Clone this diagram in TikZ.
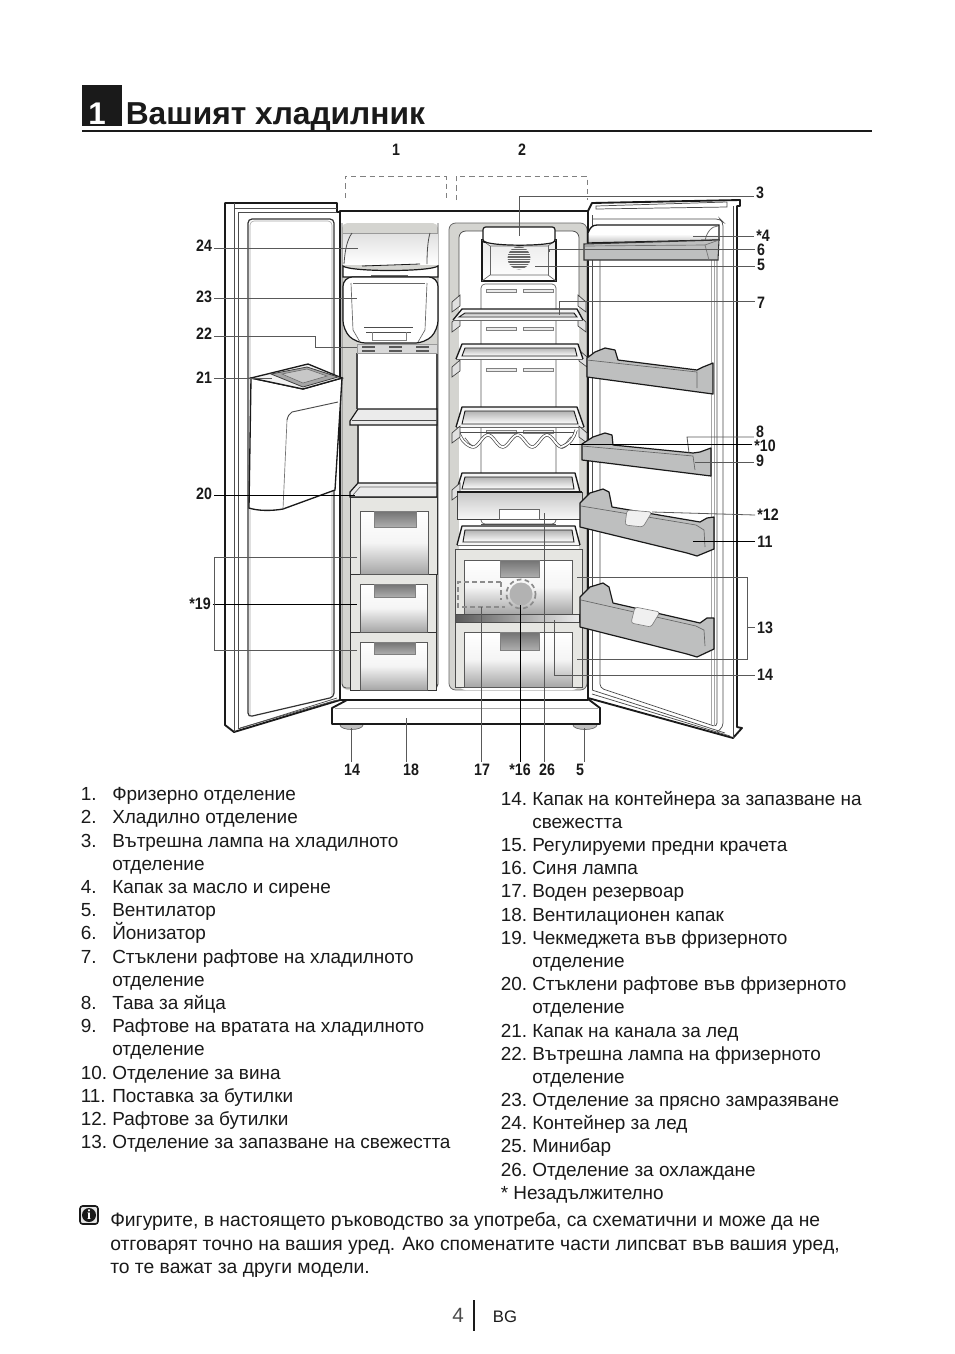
\documentclass[tikz,border=0pt]{standalone}
\usepackage{fontspec}
\setmainfont{Liberation Sans}
\newfontfamily\numf[FakeStretch=0.86]{Liberation Sans}
\newfontfamily\iconf{Liberation Serif}
\usetikzlibrary{calc}
\definecolor{ink}{HTML}{1A1A1A}
\definecolor{frameg}{HTML}{D4D4D0}
\definecolor{doorg}{HTML}{BEBFBF}
\definecolor{sideg}{HTML}{E6E6E2}
\tikzset{
  num/.style={font=\numf\bfseries\fontsize{12.4}{14}\selectfont,text=ink,inner sep=1.5pt},
  item/.style={anchor=base west,font=\fontsize{14.22}{17}\selectfont,text=ink,inner sep=0pt},
  noteline/.style={anchor=base west,font=\fontsize{14.48}{17}\selectfont,text=ink,inner sep=0pt},
  lead/.style={draw=black!65,line width=0.6pt},
  leaddark/.style={draw=black,line width=0.7pt},
  outline/.style={draw=ink,line width=1.4pt,line join=round},
  thin/.style={draw=black!70,line width=0.55pt},
  hair/.style={draw=black!35,line width=0.45pt},
  dashbox/.style={draw=black!50,line width=0.5pt,dash pattern=on 4pt off 3pt},
  bluedash/.style={draw=black!45,line width=1.3pt,dash pattern=on 3.5pt off 2.5pt},
  dshelf/.style={draw=ink,line width=0.9pt,fill=doorg,line join=round},
  slot/.style={draw=black!50,line width=0.4pt,fill=black!8},
  clipb/.style={draw=black!75,line width=0.5pt,fill=black!12},
  front/.style={draw=black!65,line width=0.5pt,top color=white,bottom color=black!35,middle color=black!4},
  hand/.style={draw=black!50,line width=0.3pt,top color=black!55,bottom color=black!32},
}
\newcommand{\glassshelf}[6]{%
  \fill[black!4] (#3,#1) -- (#4,#1) -- (#6,#2) -- (#5,#2) -- cycle;
  \draw[draw=ink,line width=1pt,line join=round] (#5,#2) -- (#3,#1) -- (#4,#1) -- (#6,#2);
  \draw[draw=black!60,line width=.5pt] (#5,#2) -- (#6,#2);
  \draw[draw=ink,line width=.7pt,top color=black!30,bottom color=white] ($(#3,#1)+(3,4)$) -- ($(#4,#1)+(-3,4)$) -- ($(#6,#2)+(-6,-3)$) -- ($(#5,#2)+(6,-3)$) -- cycle;
}
\newcommand{\clipL}[2]{\draw[clipb] (#1,{#2+7}) -- ({#1+8},#2) -- ({#1+8},{#2+11}) -- (#1,{#2+17}) -- cycle;}
\newcommand{\clipR}[2]{\draw[clipb] (#1,#2) -- ({#1+8},{#2+7}) -- ({#1+8},{#2+17}) -- (#1,{#2+11}) -- cycle;}
\begin{document}
\begin{tikzpicture}[x=0.75pt,y=-0.75pt]
\useasboundingbox (0,0) rectangle (954,1354);
\fill[white] (0,0) rectangle (954,1354);

% --- heading
\fill[ink] (82,85) rectangle (122,126);
\node[anchor=base,text=white,font=\bfseries\fontsize{23.5}{26}\selectfont,inner sep=0pt] (hnum) at (97,124) {1};
\node[anchor=base west,text=ink,font=\bfseries\fontsize{23.8}{26}\selectfont,inner sep=0pt] (htitle) at (125.5,124) {Вашият хладилник};
\draw[draw=ink,line width=1.6pt] (82,131) -- (872,131);

% --- dashed brackets
\draw[dashbox] (345,198) -- (345,176) -- (446,176) -- (446,198);
\draw[dashbox] (456,200) -- (456,176) -- (587,176) -- (587,200);

% --- base and feet
\draw[draw=black!60,line width=.5pt,fill=black!25] (351.5,725) ellipse[x radius=11.5,y radius=4.5];
\draw[draw=black!60,line width=.5pt,fill=black!25] (585,725) ellipse[x radius=12,y radius=4.5];
\draw[outline,fill=white] (347,700) -- (332,708) -- (332,724) -- (600,724) -- (600,708) -- (588,699);
\draw[hair] (335,708) -- (598,708);

% --- left door
\draw[outline,fill=white] (340,700) -- (234,732) -- (225,725) -- (225,203) -- (337,203) -- (337,212) -- (340,212) -- cycle;
\draw[thin] (234,732) -- (234,203);
\draw[thin] (238,729) -- (238,212) -- (337,212);
\draw[thin] (234,203) -- (234,208) -- (337,208);
\draw[thin] (238,729) -- (337,698);
\draw[thin] (240,728) -- (337,700);
\draw[draw=black!80,line width=.9pt,rounded corners=3pt] (248,717) -- (248,219) -- (334,219) -- (334,697) -- cycle;
\draw[hair,rounded corners=3pt] (250,715) -- (250,221) -- (332,221) -- (332,695);

% --- cabinet
\fill[white] (340,211) rectangle (588,700);
\fill[frameg,rounded corners=4pt] (342,223) rectangle (438,690);
\fill[white] (357,353) rectangle (437,497);
\draw[draw=black!70,line width=.8pt] (437,353) -- (437,497);
\draw[draw=black!70,line width=.8pt] (357,353) -- (357,409);
\draw[draw=black!70,line width=.8pt] (358,425) -- (358,483);
% fridge interior
\draw[draw=black!60,line width=.6pt,fill=frameg,rounded corners=5pt] (449,690) -- (449,223) -- (587,223) -- (587,690) -- cycle;
\fill[white,rounded corners=5pt] (459,690) -- (459,231) -- (579,231) -- (579,690) -- cycle;
\draw[draw=black!70,line width=.6pt,rounded corners=5pt] (459,300) -- (459,231) -- (579,231) -- (579,300);
\draw[outline] (340,211) -- (588,211) -- (588,700) -- (340,700) -- cycle;
\draw[draw=ink,line width=1.9pt] (340,211) -- (340,700);
\draw[draw=black!70,line width=.7pt,fill=none,rounded corners=3pt] (342,223) -- (342,688) -- (438,688) -- (438,223);

% --- ice container 24
\fill[top color=black!12,bottom color=white] (343,233) rectangle (438,264);
\draw[draw=black!40,line width=.5pt] (343,233) -- (438,233);
\draw[draw=black!70,line width=.6pt] (344,264) .. controls (345,250) and (347,240) .. (352,233);
\draw[draw=black!70,line width=.6pt] (427,264) .. controls (427,250) and (428,240) .. (430,233);
\draw[draw=ink,line width=.9pt,fill=white] (343,266) .. controls (350,272) and (430,272) .. (438,266) -- (438,277) -- (343,277) -- cycle;
\draw[draw=ink,line width=.6pt] (362,266) -- (420,264);
\draw[draw=black!60,line width=.5pt] (371,275) rectangle (407,279);
% --- fast freeze 23
\draw[draw=ink,line width=.9pt,fill=white,rounded corners=7pt] (343,277) -- (438,277) -- (438,330) -- (425,343) -- (356,343) -- (343,330) -- cycle;
\draw[draw=black!60,line width=.5pt] (353,283) -- (425,283);
\draw[draw=black!60,line width=.5pt] (351,283) -- (353,330) -- (360,342);
\draw[draw=black!60,line width=.5pt] (427,283) -- (425,330) -- (418,342);
\draw[draw=black!70,line width=.6pt] (364,327) -- (413,327);
\draw[draw=black!70,line width=.6pt] (366,332) -- (411,332);
\draw[draw=black!50,line width=.5pt] (372,332) -- (372,340) -- (406,340) -- (406,332);
% --- lamp strip 22
\draw[draw=black!40,line width=.4pt,fill=black!15] (357,344) rectangle (437,353);
\foreach \xx in {362,389,416}{\fill[black!65] (\xx,346) rectangle ++(13,2);\fill[black!65] (\xx,350) rectangle ++(13,2);}
% --- freezer shelves
\draw[draw=ink,line width=.9pt,fill=black!8] (350,425) -- (350,421) -- (358,409) -- (437,409) -- (437,425) -- cycle;
\draw[draw=black!70,line width=.5pt] (352,420) -- (437,420);
\draw[draw=ink,line width=.9pt,fill=black!8] (350,497) -- (350,492) -- (358,483) -- (437,483) -- (437,497) -- cycle;
\draw[draw=black!60,line width=.5pt] (353,495) -- (360,487) -- (437,487);
% --- freezer drawers
\draw[draw=black!80,line width=.7pt,fill=sideg] (350,497) rectangle (437,574);
\draw[draw=black!80,line width=.7pt,fill=sideg] (350,574) rectangle (436,632);
\draw[draw=black!80,line width=.7pt,fill=sideg] (350,632) rectangle (436,690);
\draw[front] (360,511) rectangle (428,574);
\draw[hand] (374,511) rectangle (416,527);
\draw[front] (360,584) rectangle (427,632);
\draw[hand] (374,584) rectangle (415,597);
\draw[front] (360,642) rectangle (427,690);
\draw[hand] (374,642) rectangle (415,654);

% --- fridge rear shelf holder
\draw[draw=black!65,line width=.5pt,rounded corners=3pt] (481,524) -- (481,284) -- (556,284) -- (556,524) -- cycle;
\foreach \yy in {289,327,368,430}{\draw[slot] (486,\yy) rectangle (516,{\yy+3});\draw[slot] (523,\yy) rectangle (553,{\yy+3});}
% --- fan housing and lamp cover
\draw[draw=ink,line width=1.1pt,top color=black!8,bottom color=white] (482,240) rectangle (556,281);
\draw[draw=black!60,line width=.5pt] (482,240) -- (490,246) -- (548,246) -- (556,240);
\draw[draw=black!60,line width=.5pt] (482,281) -- (490,275) -- (548,275) -- (556,281);
\draw[draw=black!60,line width=.5pt] (490,246) -- (490,275);
\draw[draw=black!60,line width=.5pt] (548,246) -- (548,275);
\begin{scope}
\clip (519,258) circle[radius=11.5];
\foreach \yy in {247,249.5,...,270}{\draw[draw=black!60,line width=.8pt] (505,\yy) -- (533,\yy);}
\end{scope}
\draw[draw=ink,line width=.9pt,fill=white,rounded corners=2pt] (485,242) .. controls (500,246) and (540,246) .. (555,242) -- (555,227) -- (483,227) -- (483,242) -- cycle;
% --- glass shelves
\clipL{452}{295}\clipL{452}{315}\clipR{578}{295}\clipR{578}{315}
\clipL{452}{360}\clipR{579}{350}
\glassshelf{309}{320}{462}{577}{453}{583}
\glassshelf{344}{359}{462}{578}{456}{583}
\glassshelf{407}{427}{462}{577}{456}{584}
% wine rack
\draw[draw=black!70,line width=.5pt] (460,432) -- (577,432);
\draw[draw=black!75,line width=.5pt,double=white,double distance=1.4pt] plot[domain=464:572,samples=70,smooth] (\x,{441-6*cos((\x-488)*12.2)});
\draw[draw=black!75,line width=.5pt,double=white,double distance=1.4pt] (458,430) .. controls (460,438) and (464,444) .. (472,447);
\draw[draw=black!75,line width=.5pt,double=white,double distance=1.4pt] (576,430) .. controls (574,438) and (570,444) .. (561,447);
\clipL{452}{426}\clipR{579}{426}
\glassshelf{473}{492}{462}{575}{456}{580}
\clipL{452}{483}
% --- chiller drawer 26
\draw[draw=black!75,line width=.6pt,top color=black!22,bottom color=black!3] (457,492) rectangle (582,519);
\draw[draw=ink,line width=.9pt] (457,492) -- (582,492);
\draw[draw=black!60,line width=.5pt,fill=white] (499,509) rectangle (539,519);
\draw[draw=black!70,line width=.6pt] (481,524) -- (556,524);
% --- shelf over crisper
\glassshelf{526}{545}{462}{575}{457}{580}
% --- crisper drawers
\draw[draw=black!70,line width=.7pt,fill=sideg] (455,549) rectangle (582,614);
\draw[front] (464,560) rectangle (572,614);
\draw[hand] (500,560) rectangle (539,577);
\draw[draw=black!70,line width=.7pt,fill=sideg] (455,622) rectangle (582,687);
\draw[front] (464,632) rectangle (572,687);
\draw[hand] (500,632) rectangle (539,650);
\draw[draw=black!70,line width=.6pt,left color=black!65,right color=black!8] (455,614) rectangle (579,622);
% --- water tank and blue lamp, dashed
\fill[black!30] (521,594) circle[radius=11.5];
\draw[bluedash] (521,594) circle[radius=14.5];
\draw[bluedash] (501,582) -- (458,582) -- (458,607) -- (505,607);
\draw[bluedash] (501,582) -- (501,600);

% --- right door
\fill[white] (592,203) -- (740,200) -- (740,206) -- (737,206) -- (737,727) -- (742,728) -- (733,738) -- (590,698) -- (590,211) -- cycle;
\draw[outline] (588,211) -- (592,203) -- (740,200) -- (740,206) -- (737,206) -- (737,727) -- (742,728) -- (733,738) -- (588,698);
\draw[thin] (596,206) -- (727,202) -- (727,207) -- (596,209) -- cycle;
\draw[thin] (733,206) -- (733,738);
\draw[thin] (592,690) -- (592,215);
\draw[thin] (592,690) -- (725,733);
\draw[thin] (592,694) -- (730,736);
\draw[thin,rounded corners=3pt] (600,260) -- (600,688) -- (717,727) -- (717,260);
\draw[hair] (711,260) -- (711,725);
\draw[hair] (714,260) -- (714,726);
\draw[thin,rounded corners=3pt] (592,219) -- (720,219) -- (723,222) -- (723,727) -- (717,732);
% butter compartment
\draw[draw=ink,line width=1pt,top color=white,bottom color=black!25,middle color=white] (588,233) .. controls (590,228) and (592,225) .. (597,225) -- (719,225) -- (719,240) -- (588,243) -- cycle;
\draw[draw=black!55,line width=.6pt] (705,242) .. controls (706,232) and (712,226) .. (718,226);
\draw[draw=black!80,line width=.8pt,fill=doorg] (584,244) -- (719,240) -- (718,260) -- (584,260) -- cycle;
\draw[draw=black!55,line width=.5pt] (584,246) -- (705,245) -- (709,260);
\draw[draw=black!55,line width=.5pt] (705,245) -- (719,240);
% door shelves
\draw[dshelf] (587,358) -- (595,352) -- (605,348) -- (615,350) -- (618,360) -- (697,370) -- (703,367) -- (713,363) -- (713,394) -- (587,377) -- cycle;
\draw[draw=black!60,line width=.5pt] (587,360) -- (697,372) -- (697,388);
\draw[dshelf] (582,444) -- (593,437) -- (605,433) -- (612,435) -- (613,445) -- (693,453) -- (700,452) -- (711,448) -- (711,476) -- (582,460) -- cycle;
\draw[draw=black!60,line width=.5pt] (582,446) -- (693,456) -- (695,470);
\draw[dshelf] (580,503) -- (590,493) -- (603,489) -- (609,492) -- (612,507) -- (700,522) -- (707,518) -- (714,517) -- (714,549) -- (697,556) -- (687,553) -- (580,527) -- cycle;
\draw[draw=black!60,line width=.5pt] (581,506) -- (696,525) -- (704,530) -- (705,547);
\draw[draw=black!50,line width=.5pt,fill=black!6,rounded corners=2pt] (627,510) -- (652,512) -- (643,527) -- (625,525) -- cycle;
\draw[dshelf] (580,597) -- (590,587) -- (603,583) -- (609,587) -- (613,603) -- (700,623) -- (707,618) -- (714,618) -- (714,649) -- (697,657) -- (687,654) -- (580,627) -- cycle;
\draw[draw=black!60,line width=.5pt] (581,600) -- (696,626) -- (704,630) -- (705,646);
\draw[draw=black!50,line width=.5pt,fill=black!6,rounded corners=2pt] (635,607) -- (660,612) -- (651,627) -- (631,623) -- cycle;

% --- dispenser
\draw[draw=ink,line width=1pt,fill=white] (251,378) -- (249,508) .. controls (258,511) and (272,511) .. (283,509) -- (335,490) -- (342,378) -- (303,389) -- cycle;
\draw[draw=black!70,line width=.7pt] (287,420) .. controls (288,416) and (289,414) .. (292,412) -- (338,402);
\draw[draw=black!55,line width=.5pt] (287,420) -- (283,509);
\draw[draw=ink,line width=1pt,fill=black!5] (251,378) -- (308,364) -- (342,378) -- (303,389) -- cycle;
\draw[draw=black!75,line width=.6pt,fill=black!35] (271,374) -- (307,367) -- (338,377) -- (303,387) -- cycle;
\draw[draw=black!60,line width=.4pt,fill=black!22] (282,374) -- (307,369) -- (327,376) -- (303,383) -- cycle;

% --- callouts
\node[num] (n1) at (396,150) {1};
\node[num] (n2) at (522,150) {2};
\node[num] (n3) at (760,193) {3};
\node[num] (n4) at (763,236) {*4};
\node[num] (n6) at (761,250) {6};
\node[num] (n5) at (761,265) {5};
\node[num] (n7) at (761,303) {7};
\node[num] (n8) at (760,432) {8};
\node[num] (n10) at (765,446) {*10};
\node[num] (n9) at (760,461) {9};
\node[num] (n12) at (768,515) {*12};
\node[num] (n11) at (765,542) {11};
\node[num] (n13) at (765,628) {13};
\node[num] (n14r) at (765,675) {14};
\node[num] (n24) at (204,246) {24};
\node[num] (n23) at (204,297) {23};
\node[num] (n22) at (204,334) {22};
\node[num] (n21) at (204,378) {21};
\node[num] (n20) at (204,494) {20};
\node[num] (n19) at (200,604) {*19};
\node[num] (n14b) at (352,770) {14};
\node[num] (n18) at (411,770) {18};
\node[num] (n17) at (482,770) {17};
\node[num] (n16) at (520,770) {*16};
\node[num] (n26) at (547,770) {26};
\node[num] (n5b) at (580,770) {5};

\coordinate (e3) at (519,236);
\coordinate (e4) at (693,236);
\coordinate (e6) at (549,252);
\coordinate (e5) at (535,266);
\coordinate (e7) at (559,315);
\coordinate (e8) at (689,453);
\coordinate (e10) at (570,444);
\coordinate (e9) at (695,462);
\coordinate (e12) at (652,512);
\coordinate (e11) at (693,541);
\coordinate (e13a) at (577,577);
\coordinate (e13b) at (577,659);
\coordinate (e14r) at (554,620);
\coordinate (e24) at (358,248);
\coordinate (e23) at (357,298);
\coordinate (e22) at (357,347);
\coordinate (e21) at (272,378);
\coordinate (e20) at (355,495);
\coordinate (e19a) at (357,557);
\coordinate (e19b) at (357,604);
\coordinate (e19c) at (357,650);
\coordinate (e14b) at (351,728);
\coordinate (e18) at (406,718);
\coordinate (e17) at (481,607);
\coordinate (e16) at (520,605);
\coordinate (e26) at (544,513);
\coordinate (e5b) at (584,728);

\draw[lead] (n3.west |- 0,196) -- (519,196) -- (e3);
\draw[lead] (n4.west |- e4) -- (e4);
\draw[lead] (n6.west |- 0,249) -- (549,249) -- (e6);
\draw[lead] (n5.west |- e5) -- (e5);
\draw[lead] (n7.west |- 0,301) -- (559,301) -- (e7);
\draw[lead] (n8.west |- 0,437) -- (687,437) -- (e8);
\draw[leaddark] (n10.west |- e10) -- (e10);
\draw[lead] (n9.west |- e9) -- (e9);
\draw[lead] (n12.west) -- (e12);
\draw[leaddark] (n11.west |- e11) -- (e11);
\draw[lead] (e13a) -- (747,577) -- (747,659) -- (e13b);
\draw[lead] (747,627) -- (n13.west |- 0,627);
\draw[lead] (n14r.west |- 0,675) -- (554,675) -- (e14r);
\draw[lead] (n24.east |- e24) -- (e24);
\draw[lead] (n23.east |- e23) -- (e23);
\draw[lead] (n22.east |- 0,336) -- (315,336) -- (315,347) -- (e22);
\draw[lead] (n21.east |- e21) -- (e21);
\draw[leaddark] (n20.east |- e20) -- (e20);
\draw[leaddark] (n19.east |- e19b) -- (e19b);
\draw[lead] (e19a) -- (214,557) -- (214,650) -- (e19c);
\draw[lead] (e14b) -- (e14b |- n14b.north);
\draw[lead] (e18) -- (e18 |- n18.north);
\draw[lead] (e17) -- (e17 |- n17.north);
\draw[leaddark] (e16) -- (e16 |- n16.north);
\draw[lead] (e26) -- (e26 |- n26.north);
\draw[lead] (e5b) -- (e5b |- n5b.north);

% --- left list
\foreach \yy/\nn/\tt in {
 800/1./Фризерно отделение,
 823/2./Хладилно отделение,
 847/3./Вътрешна лампа на хладилното,
 870//отделение,
 893/4./Капак за масло и сирене,
 916/5./Вентилатор,
 939/6./Йонизатор,
 963/7./Стъклени рафтове на хладилното,
 986//отделение,
 1009/8./Тава за яйца,
 1032/9./Рафтове на вратата на хладилното,
 1055//отделение,
 1079/10./Отделение за вина,
 1102/11./Поставка за бутилки,
 1125/12./Рафтове за бутилки,
 1148/13./Отделение за запазване на свежестта}{
 \node[item] at (80.5,\yy) {\nn};
 \node[item] at (112,\yy) {\tt};
}
% --- right list
\foreach \yy/\nn/\tt in {
 805/14./Капак на контейнера за запазване на,
 828//свежестта,
 851/15./Регулируеми предни крачета,
 874/16./Синя лампа,
 897/17./Воден резервоар,
 921/18./Вентилационен капак,
 944/19./Чекмеджета във фризерното,
 967//отделение,
 990/20./Стъклени рафтове във фризерното,
 1013//отделение,
 1037/21./Капак на канала за лед,
 1060/22./Вътрешна лампа на фризерното,
 1083//отделение,
 1106/23./Отделение за прясно замразяване,
 1129/24./Контейнер за лед,
 1152/25./Минибар,
 1176/26./Отделение за охлаждане}{
 \node[item] at (500.5,\yy) {\nn};
 \node[item] at (532,\yy) {\tt};
}
\node[item] (star) at (500.5,1199) {* Незадължително};

% --- note
\draw[draw=ink,line width=1.2pt,fill=black!10,rounded corners=2pt] (80,1206) rectangle (98,1224);
\fill[ink] (89,1215) circle[radius=7];
\node[text=white,font=\iconf\bfseries\fontsize{10.5}{10.5}\selectfont,inner sep=0pt] (icon) at (89,1215) {i};
\node[noteline] (note1) at (110,1226) {Фигурите, в настоящето ръководство за употреба, са схематични и може да не};
\node[noteline] (note2) at (110,1250) {отговарят точно на вашия уред. Ако споменатите части липсват във вашия уред,};
\node[noteline] (note3) at (110,1273) {то те важат за други модели.};

% --- footer
\node[anchor=base,text=black!70,font=\fontsize{15.5}{18}\selectfont,inner sep=0pt] (pg) at (458,1322) {4};
\draw[draw=ink,line width=1.1pt] (474,1300) -- (474,1331);
\node[anchor=base,text=ink,font=\fontsize{12.5}{15}\selectfont,inner sep=0pt] (lang) at (505,1322) {BG};
\end{tikzpicture}
\end{document}
